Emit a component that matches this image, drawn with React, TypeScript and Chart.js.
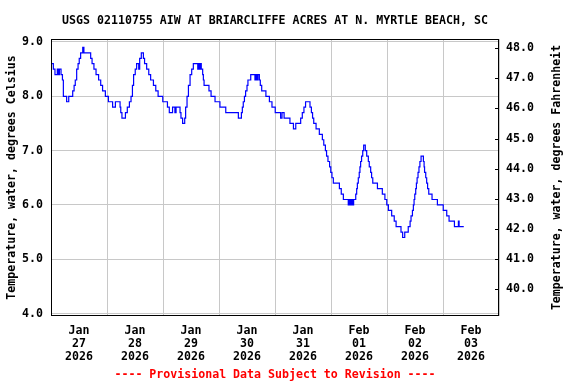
import React, { useEffect, useRef } from "react";
import { Chart, registerables } from "chart.js";

Chart.register(...registerables);

const TITLE = "USGS 02110755 AIW AT BRIARCLIFFE ACRES AT N. MYRTLE BEACH, SC";
const Y_TITLE_LEFT = "Temperature, water, degrees Celsius";
const Y_TITLE_RIGHT = "Temperature, water, degrees Fahrenheit";
const FOOTER = "---- Provisional Data Subject to Revision ----";

// x axis: hours since Jan 27 2026 00:00; one label per day, centred at noon
const dayLabels = [
  ["Jan", "27", "2026"],
  ["Jan", "28", "2026"],
  ["Jan", "29", "2026"],
  ["Jan", "30", "2026"],
  ["Jan", "31", "2026"],
  ["Feb", "01", "2026"],
  ["Feb", "02", "2026"],
  ["Feb", "03", "2026"],
];
const celsiusTicks = [4, 5, 6, 7, 8, 9];
const fahrenheitTicks = [40, 41, 42, 43, 44, 45, 46, 47, 48];

// breakpoints of the stepped record (hours since Jan 27 00:00, deg C)
const hours = [
  0.25, 1.0, 1.7, 2.7, 3.1, 3.6, 4.3, 4.9, 5.3, 6.7, 7.6, 9.3, 9.9, 10.4, 11.0, 11.6, 12.1, 12.7, 13.6, 14.1,
  17.0, 17.6, 18.4, 19.3, 20.4, 21.3, 22.1, 23.3, 24.6, 26.4, 27.6, 29.6, 29.9, 30.4, 31.9, 32.7, 33.6, 34.3,
  34.9, 35.4, 36.1, 36.7, 37.6, 38.0, 38.7, 39.6, 40.1, 41.0, 41.9, 42.7, 43.9, 44.9, 45.9, 47.9, 49.9, 50.7,
  52.1, 53.1, 53.6, 55.3, 55.7, 56.4, 57.3, 57.7, 58.3, 58.9, 59.6, 60.3, 61.0, 62.9, 63.1, 63.6, 63.9, 64.4,
  65.0, 65.3, 65.6, 67.7, 68.6, 70.3, 72.4, 74.9, 80.3, 81.6, 82.0, 82.4, 82.9, 83.4, 84.0, 84.4, 85.6, 87.4,
  87.9, 88.3, 88.7, 89.3, 89.7, 90.3, 92.1, 93.6, 94.7, 96.1, 98.4, 99.0, 99.9, 102.4, 103.9, 104.9, 107.0,
  107.7, 108.4, 109.1, 111.0, 111.6, 112.1, 112.6, 113.6, 115.0, 116.3, 116.9, 117.6, 118.1, 118.7, 119.4,
  119.9, 120.4, 121.0, 123.6, 124.4, 125.3, 127.4, 127.9, 128.4, 128.9, 129.3, 129.7, 130.6, 131.0, 131.3,
  131.7, 132.1, 132.4, 132.7, 133.1, 133.6, 134.0, 134.7, 135.3, 136.0, 136.4, 137.0, 137.4, 137.9, 139.9,
  142.0, 143.1, 143.9, 144.6, 146.0, 147.1, 147.9, 150.0, 150.7, 151.6, 153.1, 153.9, 154.3, 154.9, 155.3,
  155.6, 155.9, 156.3, 156.6, 156.9, 157.3, 157.7, 158.1, 158.6, 159.6, 159.9, 160.1, 160.6, 161.0, 161.4,
  161.9, 163.3, 165.6, 168.1, 169.6, 170.6, 172.9, 174.6, 174.9, 176.9,
];
const tempC = [
  8.6, 8.5, 8.4, 8.5, 8.4, 8.5, 8.4, 8.3, 8.0, 7.9, 8.0, 8.1, 8.2, 8.3, 8.5, 8.6, 8.7, 8.8, 8.9, 8.8,
  8.7, 8.6, 8.5, 8.4, 8.3, 8.2, 8.1, 8.0, 7.9, 7.8, 7.9, 7.8, 7.7, 7.6, 7.7, 7.8, 7.9, 8.0,
  8.2, 8.4, 8.5, 8.6, 8.5, 8.7, 8.8, 8.7, 8.6, 8.5, 8.4, 8.3, 8.2, 8.1, 8.0, 7.9, 7.8, 7.7,
  7.8, 7.7, 7.8, 7.7, 7.6, 7.5, 7.6, 7.8, 8.0, 8.2, 8.4, 8.5, 8.6, 8.5, 8.6, 8.5, 8.6, 8.5,
  8.4, 8.3, 8.2, 8.1, 8.0, 7.9, 7.8, 7.7, 7.6, 7.7, 7.8, 7.9, 8.0, 8.1, 8.2, 8.3, 8.4, 8.3,
  8.4, 8.3, 8.4, 8.3, 8.2, 8.1, 8.0, 7.9, 7.8, 7.7, 7.6, 7.7, 7.6, 7.5, 7.4, 7.5, 7.6,
  7.7, 7.8, 7.9, 7.8, 7.7, 7.6, 7.5, 7.4, 7.3, 7.2, 7.1, 7.0, 6.9, 6.8, 6.7,
  6.6, 6.5, 6.4, 6.3, 6.2, 6.1, 6.0, 6.1, 6.0, 6.1, 6.0, 6.1, 6.2, 6.3, 6.4,
  6.5, 6.6, 6.7, 6.8, 6.9, 7.0, 7.1, 7.0, 6.9, 6.8, 6.7, 6.6, 6.5, 6.4, 6.3,
  6.2, 6.1, 6.0, 5.9, 5.8, 5.7, 5.6, 5.5, 5.4, 5.5, 5.6, 5.7, 5.8, 5.9, 6.0,
  6.1, 6.2, 6.3, 6.4, 6.5, 6.6, 6.7, 6.8, 6.9, 6.8, 6.7, 6.6, 6.5, 6.4, 6.3,
  6.2, 6.1, 6.0, 5.9, 5.8, 5.7, 5.6, 5.7, 5.6, 5.6,
];

const X_MIN = 0;
const X_MAX = 192;
const C_MIN = 3.955;
const C_MAX = 9.055;
const toF = (c: number) => c * 1.8 + 32;

const FONT_FAMILY = "'DejaVu Sans Mono', 'Liberation Mono', monospace";
const FONT_SIZE = 11.6;

const decorPlugin = {
  id: "decor",
  afterDraw(chart: any) {
    const { ctx, chartArea } = chart;
    const { left, top, right, bottom } = chartArea;
    ctx.save();
    // plot frame
    ctx.strokeStyle = "#000";
    ctx.lineWidth = 1;
    ctx.strokeRect(left + 0.5, top + 0.5, right - left - 1, bottom - top - 1);
    // inward tick marks on the Fahrenheit axis
    const y1 = chart.scales.y1;
    ctx.beginPath();
    for (const v of fahrenheitTicks) {
      const py = Math.round(y1.getPixelForValue(v)) + 0.5;
      ctx.moveTo(right - 4, py);
      ctx.lineTo(right, py);
    }
    ctx.stroke();
    // title
    ctx.fillStyle = "#000";
    ctx.font = `bold ${FONT_SIZE}px ${FONT_FAMILY}`;
    ctx.textAlign = "center";
    ctx.textBaseline = "middle";
    ctx.fillText(TITLE, (left + right) / 2, 20.5);
    // right axis title (reads bottom to top)
    ctx.save();
    ctx.translate(557, (top + bottom) / 2);
    ctx.rotate(-Math.PI / 2);
    ctx.fillText(Y_TITLE_RIGHT, 0, 0);
    ctx.restore();
    // footer
    ctx.fillStyle = "#ff0000";
    ctx.fillText(FOOTER, (left + right) / 2, 375);
    ctx.restore();
  },
};

export default function App() {
  const ref = useRef<HTMLCanvasElement | null>(null);

  useEffect(() => {
    document.body.style.margin = "0";
    const canvas = ref.current;
    if (!canvas) return;
    const font = { family: FONT_FAMILY, size: FONT_SIZE, weight: "bold" as const };
    const chart = new Chart(canvas, {
      type: "line",
      data: {
        datasets: [
          {
            data: hours.map((h, i) => ({ x: h, y: tempC[i] })),
            borderColor: "#0000ff",
            borderWidth: 1.2,
            pointRadius: 0,
            stepped: "before",
            fill: false,
            xAxisID: "x",
            yAxisID: "y",
          },
        ],
      },
      options: {
        responsive: false,
        animation: false,
        events: [],
        layout: { padding: { top: 39, left: 0, right: 0, bottom: 0 } },
        plugins: { legend: { display: false }, tooltip: { enabled: false }, title: { display: false } },
        scales: {
          x: {
            type: "linear",
            position: "bottom",
            min: X_MIN,
            max: X_MAX,
            afterBuildTicks: (s: any) => {
              const t = [];
              for (let v = X_MIN; v <= X_MAX; v += 12) t.push({ value: v });
              s.ticks = t;
            },
            afterFit: (s: any) => {
              s.height = 68;
            },
            border: { display: false },
            grid: {
              drawTicks: false,
              lineWidth: 1,
              color: (c: any) => (c.tick && c.tick.value % 24 === 0 ? "#c8c8c8" : "rgba(0,0,0,0)"),
            },
            ticks: {
              autoSkip: false,
              maxRotation: 0,
              minRotation: 0,
              padding: 8,
              color: "#000",
              font: { ...font, lineHeight: "13px" },
              callback: (v: any) => {
                const n = Number(v);
                if (n % 24 !== 12) return "";
                return dayLabels[Math.floor(n / 24)] || "";
              },
            },
          },
          y: {
            type: "linear",
            position: "left",
            min: C_MIN,
            max: C_MAX,
            afterBuildTicks: (s: any) => {
              s.ticks = celsiusTicks.map((v) => ({ value: v }));
            },
            afterFit: (s: any) => {
              s.width = 51;
            },
            border: { display: false },
            grid: { drawTicks: false, color: "#c8c8c8", lineWidth: 1 },
            ticks: {
              padding: 8,
              color: "#000",
              font,
              callback: (v: any) => Number(v).toFixed(1),
            },
            title: {
              display: true,
              text: Y_TITLE_LEFT,
              color: "#000",
              font,
              padding: { top: 5, bottom: 0 },
            },
          },
          y1: {
            type: "linear",
            position: "right",
            min: toF(C_MIN),
            max: toF(C_MAX),
            afterBuildTicks: (s: any) => {
              s.ticks = fahrenheitTicks.map((v) => ({ value: v }));
            },
            afterFit: (s: any) => {
              s.width = 77;
            },
            border: { display: false },
            grid: { drawOnChartArea: false, drawTicks: false },
            ticks: {
              padding: 7,
              color: "#000",
              font,
              callback: (v: any) => Number(v).toFixed(1),
            },
          },
        },
      },
      plugins: [decorPlugin],
    });
    return () => chart.destroy();
  }, []);

  return (
    <div style={{ position: "absolute", left: 0, top: 0, width: 576, height: 384, background: "#fff" }}>
      <canvas ref={ref} width={576} height={384} style={{ display: "block" }} />
    </div>
  );
}
